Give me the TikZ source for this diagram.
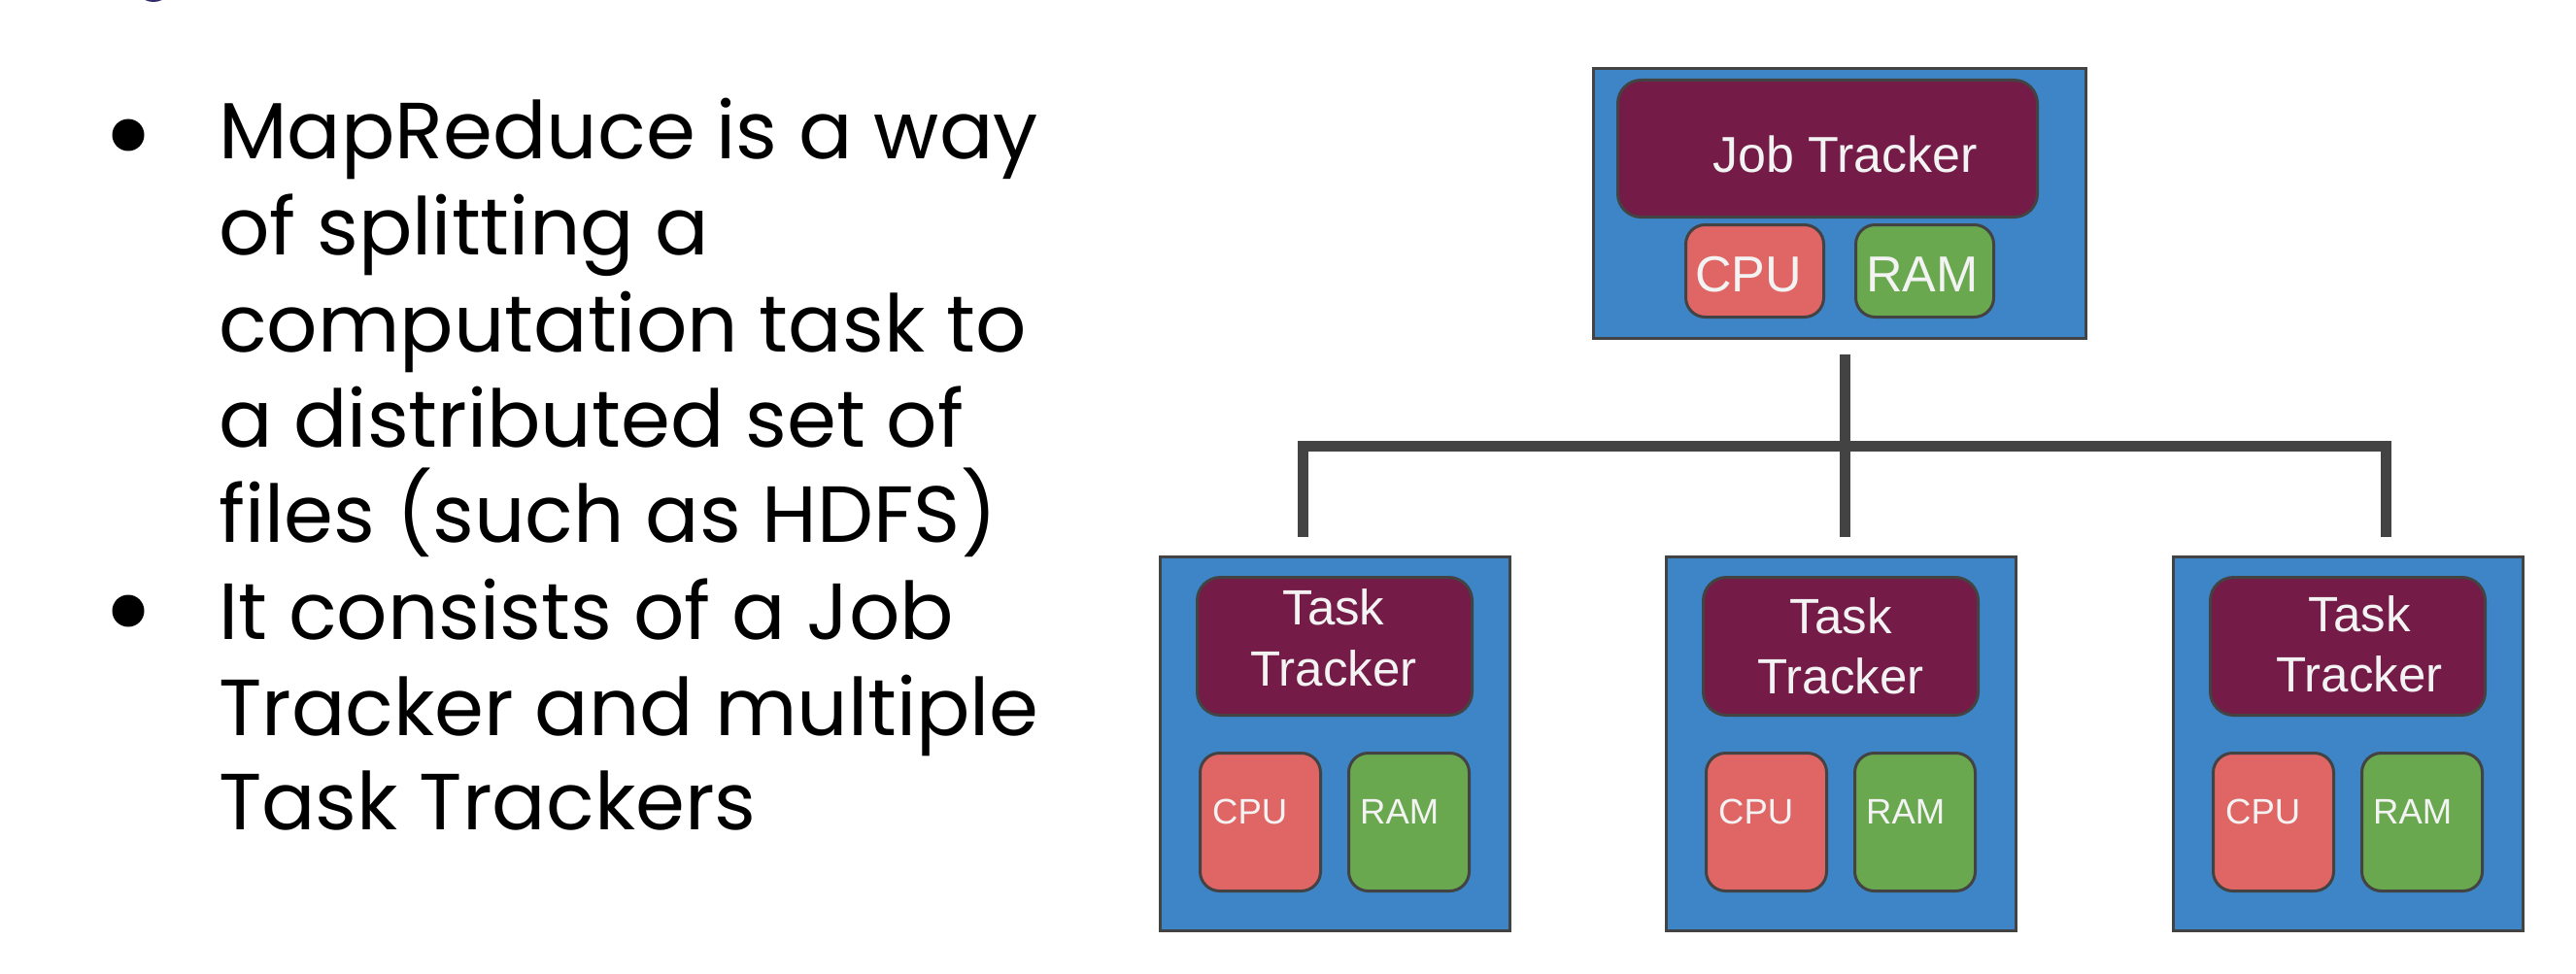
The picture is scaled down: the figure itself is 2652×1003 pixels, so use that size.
\documentclass[tikz,border=0pt]{standalone}
\usepackage{fontspec}
\setmainfont{Poppins}
\newfontfamily\boxfont{Liberation Sans}
\definecolor{nodeblue}{HTML}{3D85C6}
\definecolor{trackerpurple}{HTML}{741B47}
\definecolor{cpured}{HTML}{E06666}
\definecolor{ramgreen}{HTML}{6AA84F}
\definecolor{edge}{HTML}{434343}
\definecolor{connector}{HTML}{434343}
\definecolor{labelwhite}{HTML}{F3F3F3}
\definecolor{logopurple}{HTML}{2E2A6B}
\begin{document}
\begin{tikzpicture}[x=1pt,y=-1pt,
  frame/.style={draw=edge, line width=3pt, fill=nodeblue, rectangle, anchor=north west, inner sep=0pt},
  tracker/.style={draw=edge, line width=3pt, fill=trackerpurple, rectangle, rounded corners=24pt, anchor=north west, inner sep=0pt},
  cpubox/.style={draw=edge, line width=3pt, fill=cpured, rectangle, rounded corners=20pt, anchor=north west, inner sep=0pt},
  rambox/.style={draw=edge, line width=3pt, fill=ramgreen, rectangle, rounded corners=20pt, anchor=north west, inner sep=0pt},
  lbl/.style={text=labelwhite, inner sep=0pt},
  biglbl/.style={lbl, font=\boxfont\fontsize{52}{60}\selectfont},
  ttlbl/.style={lbl, anchor=base, font=\boxfont\fontsize{51}{60}\selectfont},
  smalllbl/.style={lbl, anchor=base west, font=\boxfont\fontsize{36.5}{44}\selectfont},
  conn/.style={draw=connector, line width=11pt, line join=miter},
  btext/.style={anchor=base west, inner sep=0pt, font=\fontsize{82}{95}\selectfont},
  bulletdot/.style={circle, fill=black, minimum size=33pt, inner sep=0pt}
]
\useasboundingbox (0,0) rectangle (2652,1003);
\begin{scope}
\clip (0,0) rectangle (2652,1003);
\fill[logopurple] (158,-22) ellipse [x radius=22pt, y radius=24pt];
\end{scope}

% bullet list
\node[bulletdot] (b1) at (132,139) {};
\node[bulletdot] (b2) at (132,629) {};
\node[btext] (t1) at (225,164) {MapReduce is a way};
\node[btext] (t2) at (225,262) {of splitting a};
\node[btext] (t3) at (225,362) {computation task to};
\node[btext] (t4) at (225,460) {a distributed set of};
\node[btext] (t5) at (225,558) {files (such as HDFS)};
\node[btext] (t6) at (225,658) {It consists of a Job};
\node[btext] (t7) at (225,757) {Tracker and multiple};
\node[btext] (t8) at (225,854) {Task Trackers};

% job tracker
\node[frame, minimum width=507pt, minimum height=278pt] (job) at (1639,69) {};
\node[tracker, minimum width=432pt, minimum height=141pt] (jt) at (1664,81) {};
\node[biglbl, anchor=base west] (jtl) at (1763,178) {Job Tracker};
\node[cpubox, minimum width=142pt, minimum height=95pt] (jcpu) at (1734,230) {};
\node[rambox, minimum width=142pt, minimum height=95pt] (jram) at (1909,230) {};
\node[biglbl, anchor=base west] (jcpul) at (1745,300) {CPU};
\node[biglbl, anchor=base west] (jraml) at (1921,300) {RAM};

% task trackers
\foreach \n/\x/\cx/\ya/\yb in {1/1193/1373/643/706, 2/1714/1895/652/714, 3/2236/2429/650/712}{
  \node[frame, minimum width=360pt, minimum height=385pt] (task\n) at (\x,572) {};
  \node[tracker, minimum width=283pt, minimum height=142pt] (tt\n) at (\x+38,593) {};
  \node[ttlbl] (tta\n) at (\cx,\ya) {Task};
  \node[ttlbl] (ttb\n) at (\cx,\yb) {Tracker};
  \node[cpubox, minimum width=124pt, minimum height=142pt] (cpu\n) at (\x+41,774) {};
  \node[rambox, minimum width=124pt, minimum height=142pt] (ram\n) at (\x+194,774) {};
  \node[smalllbl] (cpul\n) at (\x+55,848) {CPU};
  \node[smalllbl] (raml\n) at (\x+207,848) {RAM};
}

% connectors
\coordinate (jtap) at (1899,365);
\coordinate (lTop) at (1341.5,459);
\coordinate (lEnd) at (1341.5,553);
\coordinate (mEnd) at (1899,553);
\coordinate (rTop) at (2456.5,459);
\coordinate (rEnd) at (2456.5,553);
\draw[conn] (lEnd) -- (lTop) -- (rTop) -- (rEnd);
\draw[conn] (jtap) -- (mEnd);
\end{tikzpicture}
\end{document}
